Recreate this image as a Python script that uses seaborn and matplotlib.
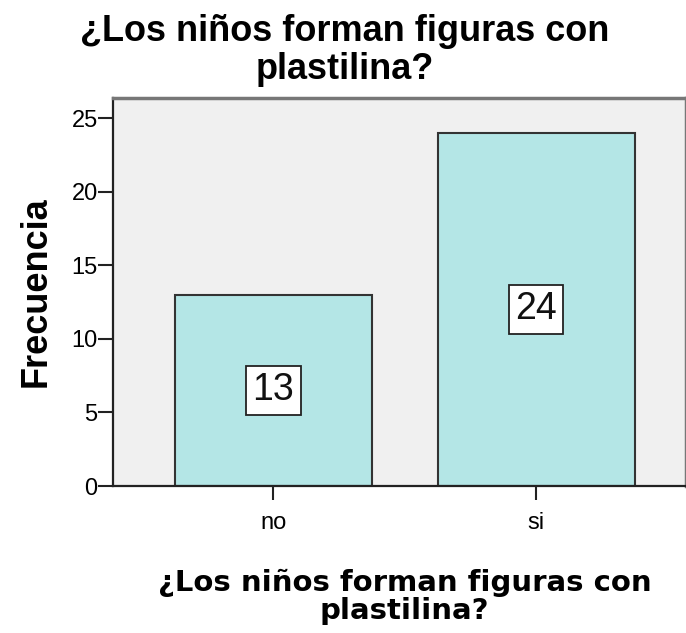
import matplotlib
matplotlib.use('Agg')
import seaborn as sns
import matplotlib.pyplot as plt
from matplotlib import font_manager

# Datos del gráfico
categorias = ['no', 'si']
frecuencias = [13, 24]
titulo = '¿Los niños forman figuras con\nplastilina?'

sns.set_style('white')
plt.rcParams['font.family'] = ['Liberation Sans', 'DejaVu Sans']
plt.rcParams['text.color'] = 'black'

# fuente estrecha para los números, si existe
nombres = {f.name for f in font_manager.fontManager.ttflist}
estrecha = 'Liberation Sans Narrow' if 'Liberation Sans Narrow' in nombres else 'Liberation Sans'
num_size = 20 if estrecha == 'Liberation Sans Narrow' else 17

fig = plt.figure(figsize=(6.86, 6.33), dpi=100)
ax = fig.add_axes([0.1647, 0.2322, 0.8353, 0.6130])
ax.set_facecolor('#f0f0f0')

sns.barplot(x=categorias, y=frecuencias, color='#b4e6e6', saturation=1,
            width=0.75, edgecolor='#333333', linewidth=1.5, ax=ax)

# Etiquetas con la frecuencia dentro de cada barra
for i, v in enumerate(frecuencias):
    ax.text(i, v / 2, str(v), ha='center', va='center',
            fontsize=31 if estrecha == 'Liberation Sans Narrow' else 27,
            family=estrecha, color='#111111',
            bbox=dict(boxstyle='square,pad=0.17', fc='white', ec='#222222', lw=1.3))

ax.set_xlim(-0.61, 1.57)
ax.set_ylim(0, 26.36)
ax.set_yticks([0, 5, 10, 15, 20, 25])
ax.tick_params(axis='y', length=11, width=1.5, direction='out', left=True, pad=0,
               colors='#222222', labelcolor='black')
ax.tick_params(axis='x', length=10, width=1.5, direction='out', bottom=True, pad=9,
               colors='#222222', labelcolor='black')
for lab in ax.get_yticklabels() + ax.get_xticklabels():
    lab.set_family(estrecha)
    lab.set_fontsize(num_size)

for s in ['left', 'bottom']:
    ax.spines[s].set_color('#222222')
    ax.spines[s].set_linewidth(1.6)
for s in ['top', 'right']:
    ax.spines[s].set_color('#777777')
    ax.spines[s].set_linewidth(2.5)

ax.set_ylabel('Frecuencia', fontsize=26, fontweight='bold', labelpad=13, color='black')
ax.set_xlabel('')
fig.text(0.59, 0.057, titulo, ha='center', va='center', fontsize=21,
         fontweight='bold', family='DejaVu Sans', linespacing=1.0)
fig.text(0.503, 0.978, titulo, ha='center', va='top', fontsize=26,
         fontweight='bold', linespacing=1.12)

fig.savefig('out.png', dpi=100)
